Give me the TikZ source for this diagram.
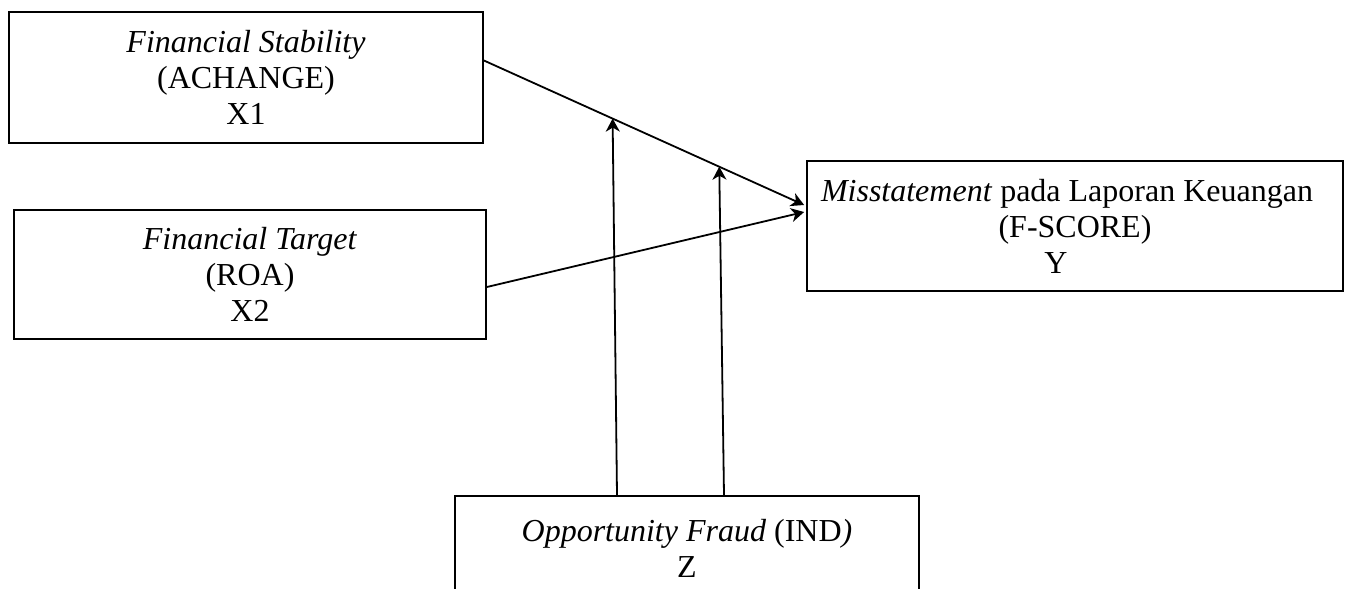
\documentclass[tikz,border=0pt]{standalone}
\usepackage{fontspec}
\setmainfont{Liberation Serif}
\usetikzlibrary{arrows.meta, calc}

\begin{document}
\begin{tikzpicture}[x=0.5pt, y=-0.5pt, font=\fontsize{16}{18}\selectfont]
\tikzstyle{box} = [rectangle, draw=black, line width=0.9pt, align=center, inner sep=0pt]
\tikzstyle{arrow} = [line width=0.9pt,->,>={Stealth[length=6.5pt,width=7pt,inset=2pt]}]
\clip (0,0) rectangle (1350,589);
% Nodes
\node (stab) [box, minimum width=237pt, minimum height=65.5pt] at (246,77.5) {\textit{Financial Stability}\\(ACHANGE)\\X1};
\node (target) [box, minimum width=236pt, minimum height=64.5pt] at (250,274.5) {\textit{Financial Target}\\(ROA)\\X2};
\node (fscore) [box, minimum width=268pt, minimum height=65pt] at (1075,226) {\textit{Misstatement} pada Laporan Keuangan\hspace*{8pt}\\(F-SCORE)\\Y\hspace*{19pt}};
\node (opp) [box, minimum width=232pt, minimum height=52pt] at (687,548) {\textit{Opportunity Fraud} (IND\textit{)}\\Z};

% Arrows
\draw [arrow] ([yshift=8.5pt]stab.east) -- ([xshift=-1pt,yshift=10.5pt]fscore.west)
  coordinate[pos=0.402] (m1) coordinate[pos=0.735] (m2);
\draw [arrow] ([yshift=-6.25pt]target.east) -- ([xshift=-1pt,yshift=7pt]fscore.west);
\draw [arrow] ([xshift=-35pt]opp.north) -- (m1);
\draw [arrow] ([xshift=18.5pt]opp.north) -- (m2);

\end{tikzpicture}
\end{document}
